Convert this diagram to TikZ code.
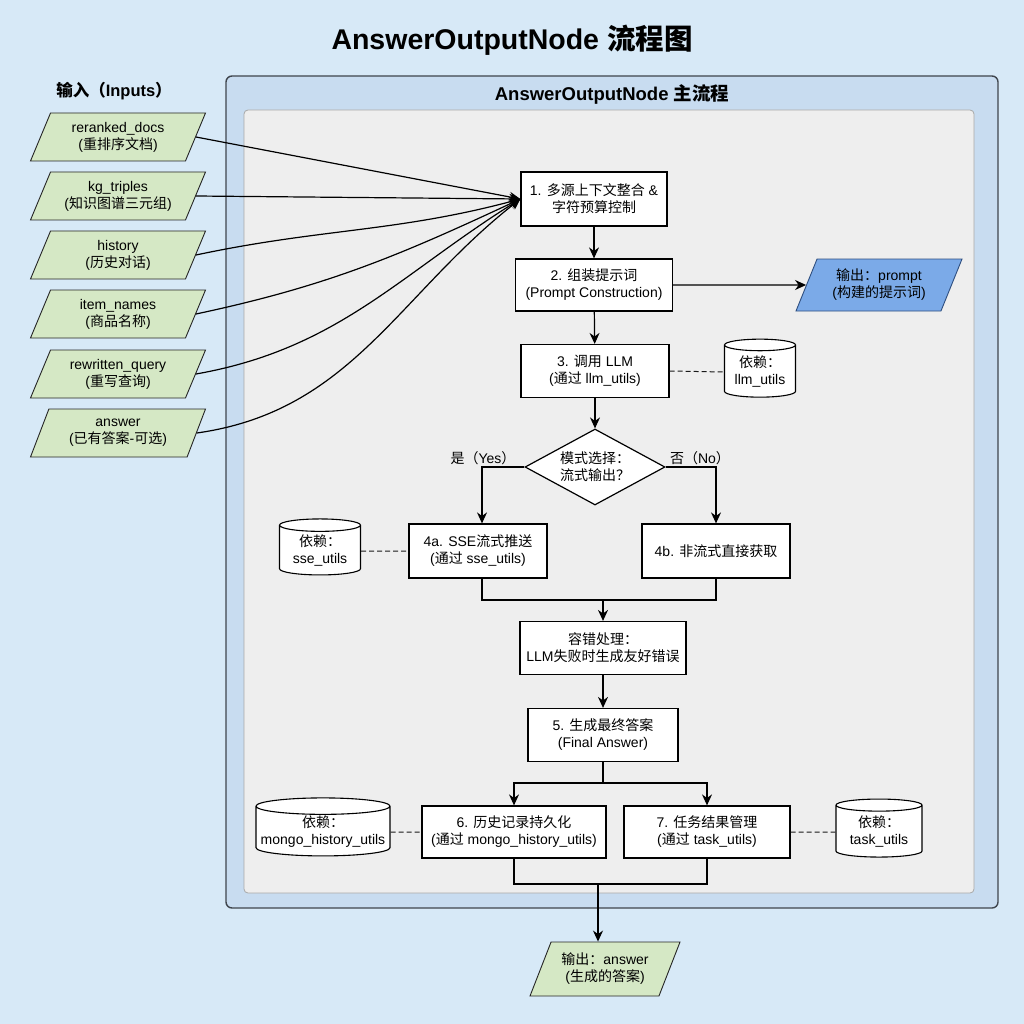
\documentclass[tikz,border=0pt]{standalone}
\usepackage{fontspec}
\setmainfont{Liberation Sans}
\newfontfamily\cjkfont{Noto Sans CJK SC}
\XeTeXinterchartokenstate=1
\newXeTeXintercharclass\CJKclass
\newcount\cjkc
\def\setcjkrange#1#2{\cjkc=#1 \loop\XeTeXcharclass\cjkc=\CJKclass \ifnum\cjkc<#2 \advance\cjkc by 1 \repeat}
\setcjkrange{"3000}{"303F}
\setcjkrange{"4E00}{"9FFF}
\setcjkrange{"FF00}{"FFEF}
\XeTeXinterchartoks 0 \CJKclass = {\begingroup\cjkfont}
\XeTeXinterchartoks 4095 \CJKclass = {\begingroup\cjkfont}
\XeTeXinterchartoks \CJKclass 0 = {\endgroup}
\XeTeXinterchartoks \CJKclass 4095 = {\endgroup}
\usetikzlibrary{shapes.geometric,arrows.meta}
\definecolor{bgblue}{HTML}{D7E9F7}
\definecolor{framefill}{HTML}{C8DCF0}
\definecolor{framedraw}{HTML}{3F454D}
\definecolor{panelfill}{HTML}{EEEEEE}
\definecolor{paneldraw}{HTML}{A8A8A8}
\definecolor{ingreen}{HTML}{D5E8C5}
\definecolor{outblue}{HTML}{7BAAE8}
\definecolor{outbluedraw}{HTML}{2F4F80}
\begin{document}
\begin{tikzpicture}[x=1pt,y=-1pt,
  font=\fontsize{14}{17}\selectfont,
  box/.style={draw=black, line width=1.2pt, fill=white, align=center, inner sep=2pt},
  para/.style={trapezium, trapezium left angle=58, trapezium right angle=122, trapezium stretches body,
    draw=black!85, line width=0.9pt, align=center, inner sep=1pt},
  inp/.style={para, fill=ingreen, minimum width=175pt, minimum height=48pt},
  db/.style={cylinder, shape border rotate=90, aspect=0.22, draw=black, line width=1.1pt, fill=white, align=center, inner sep=1pt},
  arr/.style={-{Stealth[length=11pt,width=10pt]}, line width=1.2pt, black},
  ln/.style={line width=1.2pt, black},
  dashln/.style={line width=1pt, black!90, dash pattern=on 5pt off 3pt},
  lbl/.style={font=\fontsize{14}{17}\selectfont}]
\useasboundingbox (0,0) rectangle (1024,1024);
\fill[bgblue] (0,0) rectangle (1024,1024);
\node[font=\fontsize{28.5}{32}\selectfont\bfseries] (title) at (512,40) {AnswerOutputNode 流程图};
\draw[rounded corners=6pt, fill=framefill, draw=framedraw, line width=1.4pt] (226,76) rectangle (998,908);
\draw[rounded corners=4pt, fill=panelfill, draw=paneldraw, line width=0.8pt] (244,110) rectangle (974,893);
\node[font=\fontsize{18.5}{22}\selectfont\bfseries] (ptitle) at (612,94) {AnswerOutputNode 主流程};
\node[font=\fontsize{16.5}{20}\selectfont\bfseries] (intitle) at (114,91) {输入（Inputs）};
% inputs
\node[inp] (i1) at (118,137) {reranked\_docs\\(重排序文档)};
\node[inp] (i2) at (118,196) {kg\_triples\\(知识图谱三元组)};
\node[inp] (i3) at (118,255) {history\\(历史对话)};
\node[inp] (i4) at (118,314) {item\_names\\(商品名称)};
\node[inp] (i5) at (118,374) {rewritten\_query\\(重写查询)};
\node[inp] (i6) at (118,433) {answer\\(已有答案-可选)};
% main nodes
\node[box, minimum width=146pt, minimum height=54pt] (b1) at (594,199) {1. 多源上下文整合 \&\\字符预算控制};
\node[box, minimum width=157pt, minimum height=52pt] (b2) at (594,285) {2. 组装提示词\\(Prompt Construction)};
\node[para, fill=outblue, draw=outbluedraw, minimum width=166pt, minimum height=52pt] (o1) at (879,285) {输出：prompt\\(构建的提示词)};
\node[box, minimum width=148pt, minimum height=53pt] (b3) at (595,371) {3. 调用 LLM\\(通过 llm\_utils)};
\node[db, minimum width=71pt, minimum height=58pt] (d1) at (760,372) {依赖：\\llm\_utils};
\node[diamond, draw=black, line width=1.2pt, fill=white, align=center, aspect=1.85, inner sep=0pt, minimum width=140pt, minimum height=76pt] (dec) at (595,467) {模式选择：\\流式输出？};
\node[lbl] (yes) at (483,458) {是（Yes）};
\node[lbl] (no) at (700,458) {否（No）};
\node[box, minimum width=138pt, minimum height=54pt] (b4a) at (478,551) {4a. SSE流式推送\\(通过 sse\_utils)};
\node[db, minimum width=81pt, minimum height=56pt] (d2) at (320,551) {依赖：\\sse\_utils};
\node[box, minimum width=148pt, minimum height=54pt] (b4b) at (716,551) {4b. 非流式直接获取};
\coordinate (m1) at (603,600);
\node[box, minimum width=166pt, minimum height=53pt] (err) at (603,648) {容错处理：\\LLM失败时生成友好错误};
\node[box, minimum width=150pt, minimum height=53pt] (b5) at (603,735) {5. 生成最终答案\\(Final Answer)};
\coordinate (s2) at (603,783);
\node[box, minimum width=184pt, minimum height=52pt] (b6) at (514,832) {6. 历史记录持久化\\(通过 mongo\_history\_utils)};
\node[box, minimum width=166pt, minimum height=52pt] (b7) at (707,832) {7. 任务结果管理\\(通过 task\_utils)};
\node[db, aspect=0.13, minimum width=134pt, minimum height=58pt] (d3) at (323,832) {依赖：\\mongo\_history\_utils};
\node[db, aspect=0.2, minimum width=86pt, minimum height=58pt] (d4) at (879,832) {依赖：\\task\_utils};
\coordinate (m2) at (598,884);
\node[para, fill=ingreen, minimum width=150pt, minimum height=54pt] (o2) at (605,969) {输出：answer\\(生成的答案)};
% input connectors
\draw[arr] (i1.east) -- (b1.west);
\draw[arr] (i2.east) -- (b1.west);
\draw[arr] (i3.east) to[out=12, in=195] (b1.west);
\draw[arr] (i4.east) to[out=12, in=205] (b1.west);
\draw[arr] (i5.east) to[out=10, in=212] (b1.west);
\draw[arr] (i6.east) to[out=8, in=218] (b1.west);
% flow
\draw[arr] (b1) -- (b2);
\draw[arr] (b2.east) -- (o1.west);
\draw[arr] (b2) -- (b3);
\draw[arr] (b3) -- (dec.north);
\draw[dashln] (b3.east) -- (d1.west);
\draw[arr] (dec.west) -| ([xshift=4pt]b4a.north);
\draw[arr] (dec.east) -| (b4b.north);
\draw[dashln] (d2.east) -- (b4a.west);
\draw[ln] ([xshift=4pt]b4a.south) |- (m1) -| (b4b.south);
\draw[arr] (m1) -- (err.north);
\draw[arr] (err) -- (b5);
\draw[ln] (b5.south) -- (s2);
\draw[arr] (s2) -| (b6.north);
\draw[arr] (s2) -| (b7.north);
\draw[dashln] (d3.east) -- (b6.west);
\draw[dashln] (b7.east) -- (d4.west);
\draw[ln] (b6.south) |- (m2) -| (b7.south);
\draw[arr] (m2) -- (m2 |- o2.north);
\end{tikzpicture}
\end{document}
